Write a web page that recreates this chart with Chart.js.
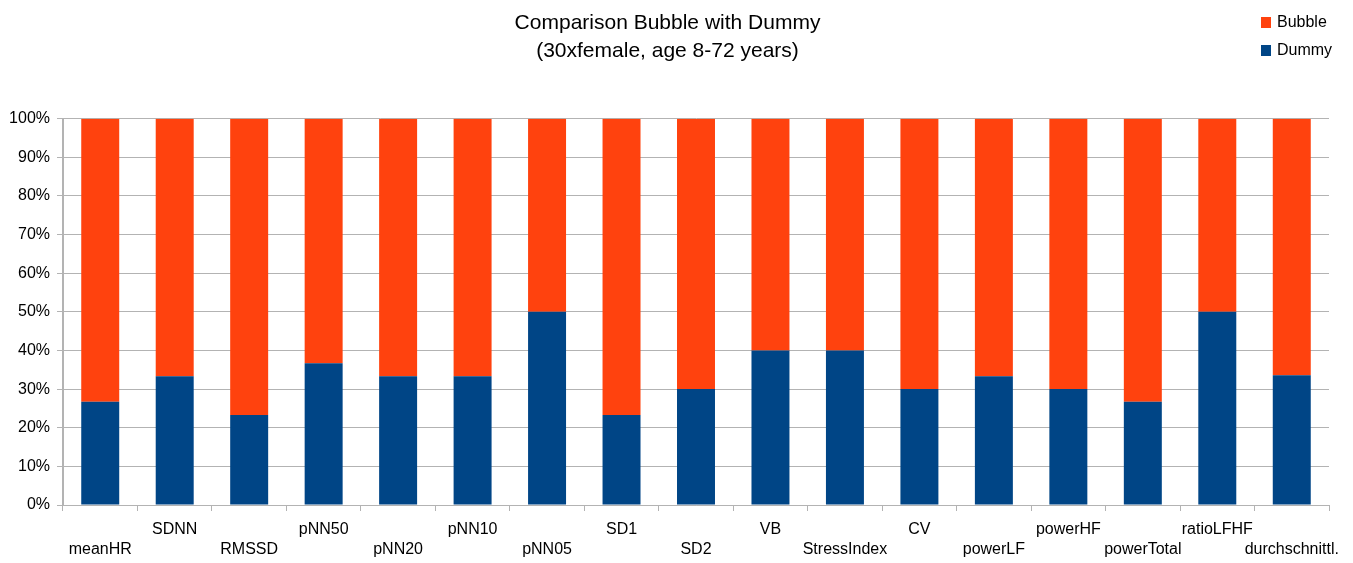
<!DOCTYPE html>
<html lang="en">
<head>
  <meta charset="UTF-8">
  <title>Comparison Bubble with Dummy</title>
  <style>
    body { margin: 0; background: #fff; }
    #wrap { position: relative; width: 1353px; height: 563px; }
    #legend { position: absolute; left: 1261px; top: 8px; font: 16px "Liberation Sans", Arial, sans-serif; color: #000; }
    .item { display: flex; align-items: center; height: 28px; }
    .box { width: 10px; height: 11px; margin-right: 6px; }
  </style>
</head>
<body>
  <div id="wrap">
    <canvas id="chart" width="1353" height="563"></canvas>
    <div id="legend">
      <div class="item"><span class="box" style="background:#ff420e"></span>Bubble</div>
      <div class="item"><span class="box" style="background:#004586"></span>Dummy</div>
    </div>
  </div>
  <script src="https://cdn.jsdelivr.net/npm/chart.js"></script>
  <script>
    const categories = ['meanHR', 'SDNN', 'RMSSD', 'pNN50', 'pNN20', 'pNN10', 'pNN05', 'SD1', 'SD2',
      'VB', 'StressIndex', 'CV', 'powerLF', 'powerHF', 'powerTotal', 'ratioLFHF', 'durchschnittl.'];
    const dummy  = [26.7, 33.3, 23.3, 36.7, 33.3, 33.3, 50.0, 23.3, 30.0, 40.0, 40.0, 30.0, 33.3, 30.0, 26.7, 50.0, 33.6];
    const bubble = [73.3, 66.7, 76.7, 63.3, 66.7, 66.7, 50.0, 76.7, 70.0, 60.0, 60.0, 70.0, 66.7, 70.0, 73.3, 50.0, 66.4];

    const gridColor = '#b3b3b3';
    const font = { family: '"Liberation Sans", Arial, sans-serif', size: 16 };

    const ctx = document.getElementById('chart').getContext('2d');
    new Chart(ctx, {
      type: 'bar',
      data: {
        labels: categories,
        datasets: [
          { label: 'Dummy', data: dummy, backgroundColor: '#004586', categoryPercentage: 1, barPercentage: 0.51 },
          { label: 'Bubble', data: bubble, backgroundColor: '#ff420e', categoryPercentage: 1, barPercentage: 0.51 }
        ]
      },
      options: {
        responsive: false,
        animation: false,
        layout: { padding: { left: 6, right: 24, bottom: 0 } },
        plugins: {
          legend: { display: false },
          tooltip: { enabled: false },
          title: {
            display: true,
            text: ['Comparison Bubble with Dummy', '(30xfemale, age 8-72 years)'],
            color: '#000',
            font: { family: font.family, size: 21, weight: 'normal', lineHeight: 1.35 },
            padding: { top: 9, bottom: 53 }
          }
        },
        scales: {
          x: {
            stacked: true,
            afterFit: s => { s.height = 58; },
            border: { color: gridColor },
            grid: {
              offset: true,
              color: c => (c.index === 0 || c.index === categories.length) ? gridColor : 'rgba(0,0,0,0)',
              tickColor: gridColor,
              tickLength: 6
            },
            ticks: {
              autoSkip: false,
              maxRotation: 0,
              minRotation: 0,
              padding: 9,
              color: '#000',
              font: { ...font, lineHeight: 1.25 },
              callback: function (v, i) {
                const name = categories[i];
                return i % 2 === 0 ? ['', name] : [name, ''];
              }
            }
          },
          y: {
            stacked: true,
            min: 0,
            max: 100,
            afterFit: s => { s.width = 57; },
            border: { color: gridColor },
            grid: { color: gridColor, tickColor: gridColor, tickLength: 6 },
            ticks: {
              stepSize: 10,
              padding: 7,
              color: '#000',
              font: font,
              callback: v => v + '%'
            }
          }
        }
      }
    });
  </script>
</body>
</html>
